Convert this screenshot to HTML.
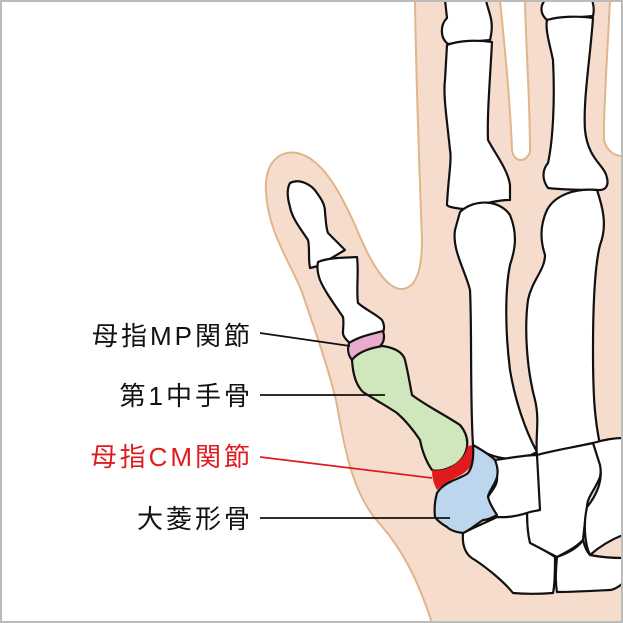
<!DOCTYPE html>
<html><head><meta charset="utf-8"><style>
html,body{margin:0;padding:0;background:#fff}
svg{display:block}
text{font-family:"Liberation Sans","Noto Sans CJK JP",sans-serif;font-size:26px;letter-spacing:3px}
</style></head><body>
<svg width="623" height="623" viewBox="0 0 623 623" xmlns="http://www.w3.org/2000/svg">
<rect x="0" y="0" width="623" height="623" fill="#fff"/>
<path d="M415,0 L500,0 C505,50 510,100 512,150 C514,163 526,163 530,152 C530,100 526,50 525,0 L610,0 C607,60 603,120 604,140 C607,152 615,156 623,156 L623,623 L432,623 C418,580 402,548 378,522 C352,492 345,450 336,400 C326,360 312,322 302,292 C290,262 268,232 266,192 C264,162 280,150 297,153 C322,158 340,192 355,225 C370,262 385,287 400,289 C416,290 422,270 422,240 C419,160 416,80 415,0 Z" fill="#f6dccd" stroke="#e0b58a" stroke-width="2"/>
<g stroke="#111" stroke-width="2.2" stroke-linejoin="round" fill="#fff">
<path d="M290,183 C300,178 312,185 317,193 C322,200 325,205 325,212 C326,222 326,228 328,233 C335,240 340,245 345,250 L318,266 L310,268 C308,258 310,248 308,240 C300,228 292,218 290,207 C288,200 286,190 290,183 Z"/>
<path d="M318,262 C330,257 345,258 357,257 C359,272 356,290 358,303 C366,310 376,314 382,320 C385,326 384,330 383,332 C370,338 360,340 350,343 C346,340 343,336 343,333 C343,327 344,322 343,317 C335,305 325,292 320,280 C317,272 317,267 318,262 Z"/>
<path d="M445,0 L486,0 C488,12 495,20 490,40 L448,44 C440,38 440,25 447,18 Z"/>
<path d="M447,45 C460,40 478,40 492,42 C490,80 487,115 488,140 C496,155 508,170 510,185 L510,200 C495,200 480,205 463,209 C455,208 448,207 447,205 C448,180 452,160 450,150 C447,120 443,95 445,80 Z"/>
<path d="M545,0 L592,0 C594,6 594,12 593,16 L547,20 C540,14 540,6 545,0 Z"/>
<path d="M547,20 C560,16 580,16 593,18 C590,60 583,100 585,130 C588,160 605,165 607,178 C609,186 605,190 600,190 C585,190 565,190 548,188 C542,180 542,170 548,163 C553,140 555,100 553,60 C550,45 545,30 547,20 Z"/>
<path d="M460,212 C475,198 500,200 510,215 C518,235 515,250 510,265 C505,290 505,330 510,370 C515,400 525,430 537,452 C520,462 495,462 473,445 C470,400 472,330 470,290 C465,270 452,250 455,230 Z"/>
<path d="M547,210 C555,195 575,188 597,190 C602,205 608,225 600,245 C595,265 593,300 593,350 C593,400 595,420 600,445 C580,455 560,455 537,455 C535,440 540,420 535,400 C527,370 524,330 528,300 C532,280 545,270 545,255 C540,240 540,225 547,210 Z"/>
<path d="M495,460 C510,458 525,455 537,455 C540,475 542,495 540,510 C525,515 510,518 497,517 C492,510 488,503 488,497 C492,490 498,485 497,477 Z"/>
<path d="M537,455 C555,450 575,447 593,443 C600,455 602,467 600,477 C595,490 587,497 587,507 C585,520 584,530 583,540 C575,548 565,553 557,557 C548,552 538,548 530,543 C527,533 527,520 527,513 C532,511 536,511 540,510 Z"/>
<path d="M593,443 C603,440 613,438 623,438 L623,535 C610,540 598,548 590,555 C585,545 583,525 587,507 C597,495 603,480 600,465 Z"/>
<path d="M463,533 C475,527 487,522 497,517 C510,518 520,515 527,513 C527,525 528,535 530,543 C540,548 548,552 555,557 C555,570 555,585 553,593 C540,594 525,594 513,593 C505,583 490,570 475,560 C465,555 462,545 463,533 Z"/>
<path d="M557,557 C568,553 578,548 583,540 C585,548 588,553 590,555 C600,557 612,558 623,558 L623,583 C618,588 612,590 610,590 C590,591 572,592 557,592 C555,580 556,568 557,557 Z"/>
<path d="M349,343 C360,336 372,334 383,331 C386,340 382,348 372,350 C362,352 356,355 352,360 C348,355 347,350 349,343 Z" fill="#eaaccc"/>
<path d="M352,360 C358,352 370,348 383,346 C395,348 403,352 405,360 C408,372 410,385 412,395 C425,405 445,415 460,425 C466,432 468,440 467,447 C465,458 458,466 443,470 C438,471 435,471 432,470 C425,460 422,450 420,440 C412,428 405,420 397,413 C385,405 372,398 363,392 C356,385 353,375 352,360 Z" fill="#d0e6bd"/>
<path d="M432,470 C438,471 445,470 452,466 C462,460 467,452 467,447 C469,446 471,445 473,445 C475,452 475,460 473,462 C470,470 462,475 455,478 C448,482 440,487 437,490 C433,483 432,476 432,470 Z" fill="#e01b1e" stroke="none"/>
<path d="M473,445 C482,450 490,455 495,460 C498,468 498,472 497,477 C495,485 488,492 488,497 C490,505 494,510 497,515 C492,518 487,520 483,520 C475,525 470,530 463,533 C455,532 450,530 447,527 C440,523 437,520 435,517 C434,508 435,500 437,493 C440,488 444,485 450,482 C458,478 465,476 468,473 C472,468 474,460 473,445 Z" fill="#bcd6ee"/>
</g>
<g stroke-width="1.8">
<line x1="260" y1="333" x2="350" y2="346" stroke="#111"/>
<line x1="260" y1="395" x2="385" y2="395" stroke="#111"/>
<line x1="260" y1="457" x2="432" y2="478" stroke="#e01b1e"/>
<line x1="260" y1="518" x2="450" y2="518" stroke="#111"/>
</g>
<text x="253" y="345" text-anchor="end" fill="#111">母指MP関節</text>
<text x="253" y="405" text-anchor="end" fill="#111">第1中手骨</text>
<text x="253" y="466" text-anchor="end" fill="#e01b1e">母指CM関節</text>
<text x="253" y="528" text-anchor="end" fill="#111">大菱形骨</text>
<rect x="1" y="1" width="621" height="621" fill="none" stroke="#bbb" stroke-width="2"/>
</svg>
</body></html>
